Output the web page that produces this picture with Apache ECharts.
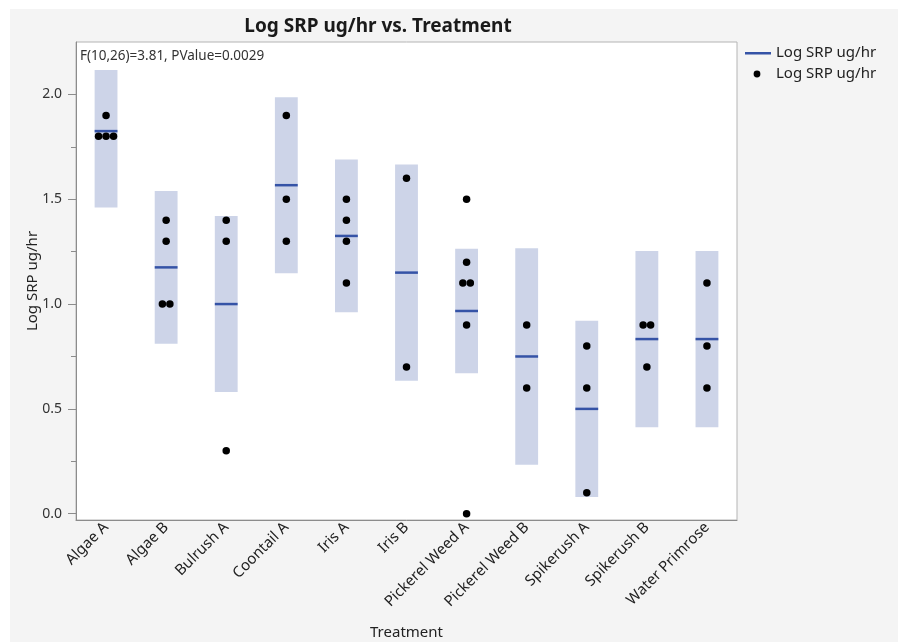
<!DOCTYPE html>
<html>
<head>
<meta charset="utf-8">
<title>Log SRP ug/hr vs. Treatment</title>
<script src="https://cdn.jsdelivr.net/npm/echarts@6/dist/echarts.min.js"></script>
<style>
  html, body { margin: 0; padding: 0; background: #ffffff; }
  #panel { position: absolute; left: 10px; top: 9px; width: 888px; height: 633px; background: #f4f4f4; }
  #chart { position: absolute; left: 0; top: 0; width: 898px; height: 642px; }
</style>
</head>
<body>
<div id="panel"></div>
<div id="chart"></div>
<script>
// Treatment groups on the x axis
const categories = ['Algae A', 'Algae B', 'Bulrush A', 'Coontail A', 'Iris A', 'Iris B',
  'Pickerel Weed A', 'Pickerel Weed B', 'Spikerush A', 'Spikerush B', 'Water Primrose'];

// Observed Log SRP ug/hr per treatment
const observations = [
  [1.9, 1.8, 1.8, 1.8],
  [1.4, 1.3, 1.0, 1.0],
  [1.4, 1.3, 0.3],
  [1.9, 1.5, 1.3],
  [1.5, 1.4, 1.3, 1.1],
  [1.6, 0.7],
  [1.5, 1.2, 1.1, 1.1, 0.9, 0.0],
  [0.9, 0.6],
  [0.8, 0.6, 0.1],
  [0.9, 0.9, 0.7],
  [1.1, 0.8, 0.6]
];

// Group means and their confidence interval bounds
const groupMeans = [1.825, 1.175, 1.0, 1.567, 1.325, 1.15, 0.967, 0.75, 0.5, 0.833, 0.833];
const ciLower = [1.461, 0.811, 0.58, 1.147, 0.961, 0.634, 0.67, 0.234, 0.08, 0.413, 0.413];
const ciUpper = [2.189, 1.539, 1.42, 1.987, 1.689, 1.666, 1.264, 1.266, 0.92, 1.253, 1.253];

// Axis ticks
const majorTicks = [0, 0.5, 1.0, 1.5, 2.0];
const minorTicks = [0.25, 0.75, 1.25, 1.75];

const seriesLabel = 'Log SRP ug/hr';
const statText = 'F(10,26)=3.81, PValue=0.0029';

const FONT = '"Noto Sans", "Open Sans", sans-serif';
const BOX_FILL = '#cdd4e8';
const MEAN_COLOR = '#3553a6';
const AXIS_COLOR = '#8c8c8c';
const BOX_FRACTION = 0.38;
const DOT_GAP = 7.5;

// Interval boxes: [categoryIndex, lower, upper]
const ciData = categories.map((c, i) => [i, ciLower[i], ciUpper[i]]);
const meanData = categories.map((c, i) => [i, groupMeans[i]]);

// Points; tied values inside a group are spread side by side
const pointData = [];
observations.forEach((vals, i) => {
  const counts = {};
  vals.forEach(v => { counts[v] = (counts[v] || 0) + 1; });
  const seen = {};
  vals.forEach(v => {
    const n = counts[v];
    const k = seen[v] || 0;
    seen[v] = k + 1;
    const dx = (k - (n - 1) / 2) * DOT_GAP;
    pointData.push({ value: [i, v], symbolOffset: [dx, 0] });
  });
});

const chart = echarts.init(document.getElementById('chart'), null, { renderer: 'canvas' });

const option = {
  backgroundColor: 'transparent',
  animation: false,
  textStyle: { fontFamily: FONT },
  title: {
    text: 'Log SRP ug/hr vs. Treatment',
    left: 373,
    textAlign: 'center',
    top: 12,
    textStyle: { fontFamily: FONT, fontSize: 19, fontWeight: 'bold', color: '#1a1a1a' }
  },
  grid: {
    left: 76, top: 42, right: 161, bottom: 122,
    outerBoundsMode: 'none',
    show: true, backgroundColor: '#ffffff', borderColor: '#b4b4b4', borderWidth: 1
  },
  xAxis: {
    type: 'category',
    data: categories,
    boundaryGap: true,
    name: 'Treatment',
    nameLocation: 'middle',
    nameGap: 105,
    nameMoveOverlap: false,
    nameTextStyle: { fontFamily: FONT, fontSize: 15, color: '#222' },
    axisLine: { onZero: false, lineStyle: { color: AXIS_COLOR, width: 1 } },
    axisTick: { show: false },
    axisLabel: {
      rotate: 45, fontFamily: FONT, fontSize: 15, color: '#222', margin: 5, interval: 0
    },
    splitLine: { show: false }
  },
  yAxis: [
    {
      type: 'value',
      min: -0.03, max: 2.25,
      name: seriesLabel,
      nameLocation: 'middle',
      nameGap: 36,
      nameMoveOverlap: false,
      nameRotate: 90,
      nameTextStyle: { fontFamily: FONT, fontSize: 15, color: '#222' },
      axisLine: { show: true, lineStyle: { color: AXIS_COLOR, width: 1 } },
      axisTick: { show: true, customValues: majorTicks, length: 8, lineStyle: { color: AXIS_COLOR } },
      axisLabel: {
        customValues: majorTicks, fontFamily: FONT, fontSize: 14, color: '#333', margin: 14,
        formatter: v => v.toFixed(1)
      },
      splitLine: { show: false }
    },
    {
      type: 'value',
      min: -0.03, max: 2.25,
      position: 'left',
      axisLine: { show: false },
      axisTick: { show: true, customValues: minorTicks, length: 5, lineStyle: { color: AXIS_COLOR } },
      axisLabel: { show: false },
      splitLine: { show: false }
    }
  ],
  series: [
    {
      name: 'ci',
      type: 'custom',
      z: 1,
      data: ciData,
      encode: { x: 0, y: [1, 2] },
      renderItem: function (params, api) {
        const idx = api.value(0);
        const lo = api.coord([idx, api.value(1)]);
        const hi = api.coord([idx, api.value(2)]);
        const w = api.size([1, 0])[0] * BOX_FRACTION;
        return {
          type: 'rect',
          shape: { x: lo[0] - w / 2, y: hi[1], width: w, height: lo[1] - hi[1] },
          style: { fill: BOX_FILL }
        };
      }
    },
    {
      name: 'mean',
      type: 'custom',
      z: 3,
      data: meanData,
      encode: { x: 0, y: 1 },
      renderItem: function (params, api) {
        const p = api.coord([api.value(0), api.value(1)]);
        const w = api.size([1, 0])[0] * BOX_FRACTION;
        return {
          type: 'rect',
          shape: { x: p[0] - w / 2, y: p[1] - 1.25, width: w, height: 2.5 },
          style: { fill: MEAN_COLOR }
        };
      }
    },
    {
      name: 'points',
      type: 'scatter',
      z: 4,
      symbol: 'circle',
      symbolSize: 7.5,
      itemStyle: { color: '#000000', opacity: 1 },
      data: pointData
    }
  ],
  graphic: [
    {
      type: 'text', z: 100, left: 77, top: 43,
      style: {
        text: statText, fontFamily: FONT, fontSize: 13.5, fill: '#333',
        backgroundColor: '#ffffff', padding: [6, 6, 7, 3]
      }
    },
    // legend
    { type: 'rect', z: 100, shape: { x: 745, y: 52, width: 26, height: 2.5 }, style: { fill: MEAN_COLOR } },
    { type: 'text', z: 100, x: 776, y: 53,
      style: { text: seriesLabel, fontFamily: FONT, fontSize: 15, fill: '#222', verticalAlign: 'middle' } },
    { type: 'circle', z: 100, shape: { cx: 757, cy: 74, r: 3.4 }, style: { fill: '#000' } },
    { type: 'text', z: 100, x: 776, y: 74,
      style: { text: seriesLabel, fontFamily: FONT, fontSize: 15, fill: '#222', verticalAlign: 'middle' } }
  ]
};

chart.setOption(option);
</script>
</body>
</html>
